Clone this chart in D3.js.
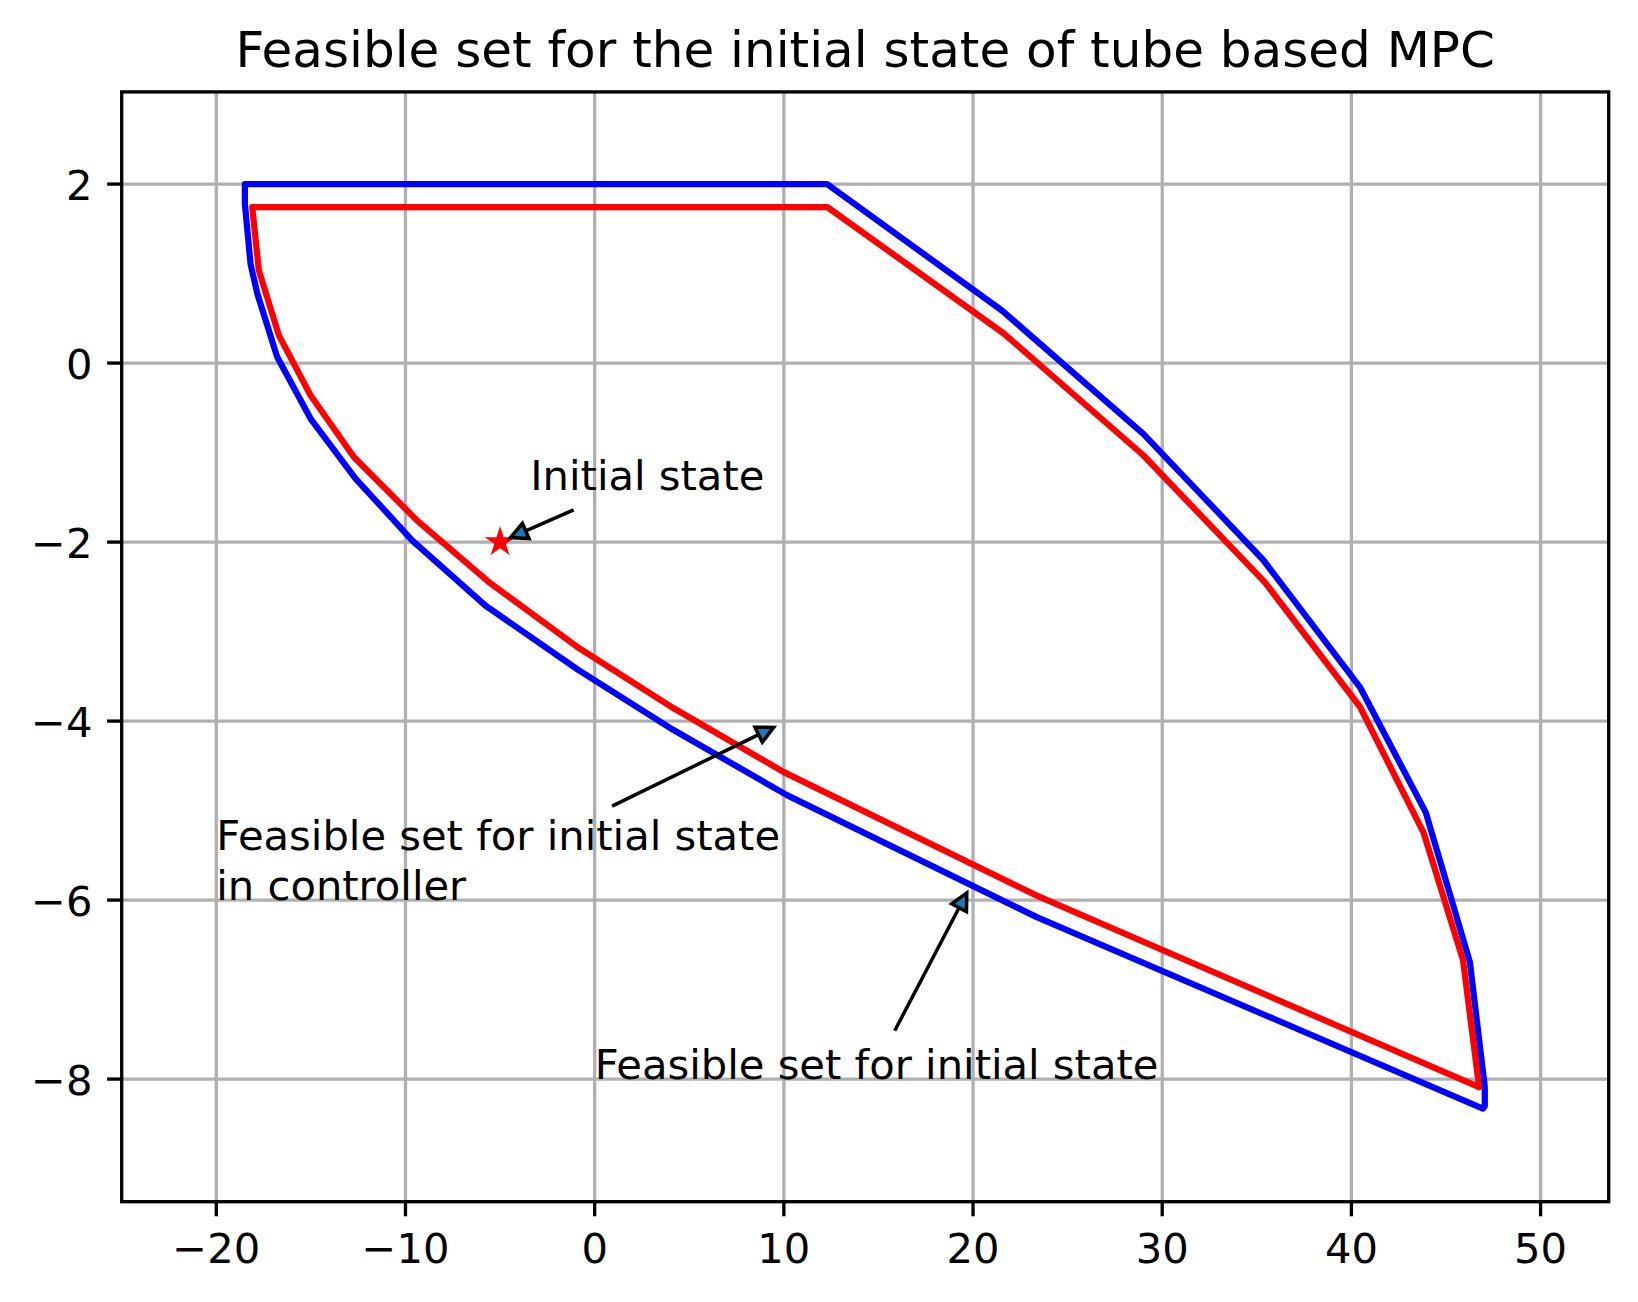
<!DOCTYPE html>
<html>
<head>
<meta charset="utf-8">
<script src="https://cdn.jsdelivr.net/npm/d3@7"></script>
<style>
  html, body { margin: 0; padding: 0; background: #fff; }
  svg { display: block; font-family: "DejaVu Sans", sans-serif; }
</style>
</head>
<body>
<svg id="chart" width="1638" height="1302"></svg>
<script>
// ---- data ----
const titleText = "Feasible set for the initial state of tube based MPC";
const xTicks = [-20, -10, 0, 10, 20, 30, 40, 50];
const yTicks = [-8, -6, -4, -2, 0, 2];

// feasible set for initial state (blue)
const blueX = [-18.49, 12.28, 21.52, 29.0, 35.34, 40.45, 43.93, 46.26, 47.05, 47.05, 46.95,
               23.37, 10.19, 4.17, -0.85, -5.77, -9.65, -12.64, -15.02, -16.78, -17.83, -18.19, -18.49];
const blueY = [2.0, 2.0, 0.589, -0.79, -2.2, -3.62, -5.02, -6.69, -8.09, -8.30, -8.33,
               -6.19, -4.83, -4.10, -3.43, -2.71, -1.98, -1.29, -0.62, 0.067, 0.775, 1.11, 1.78];

// feasible set for initial state in controller (red)
const redX = [-18.1, 12.3, 21.6, 29.0, 35.43, 40.45, 43.82, 45.9, 46.75,
              23.37, 10.0, 4.2, -0.93, -5.51, -9.38, -12.73, -15.02, -16.69, -17.75];
const redY = [1.743, 1.743, 0.335, -1.03, -2.45, -3.84, -5.25, -6.67, -8.09,
              -5.95, -4.57, -3.86, -3.17, -2.46, -1.76, -1.05, -0.36, 0.31, 1.036];

const initialState = [-5, -2];

// annotations (data coordinates)
const annTexts = [["Initial state"], ["Feasible set for initial state", "in controller"], ["Feasible set for initial state"]];
const annTextPos = [[-3.4, -1.42], [-20, -6], [0, -8]];
const arrowTail = [[-1.11, -1.64], [0.92, -4.95], [15.86, -7.46]];
const arrowTip  = [[-4.45, -1.95], [9.46, -4.07], [19.67, -5.92]];

// ---- layout ----
const W = 1638, H = 1302;
const L = 121.7, R = 1608.7, T = 91.9, B = 1201.7;
const PT = 300 / 72;           // px per point
const FS = 10 * PT;            // annotation / tick font size
const svg = d3.select("#chart");
svg.append("rect").attr("width", W).attr("height", H).attr("fill", "#fff");

const x = d3.scaleLinear().domain([-25, 53.6]).range([L, R]);
const y = d3.scaleLinear().domain([-9.37, 3.03]).range([B, T]);

// grid
const grid = svg.append("g");
grid.selectAll("line.gx").data(xTicks).join("line")
  .attr("class", "gx")
  .attr("x1", d => x(d)).attr("x2", d => x(d)).attr("y1", T).attr("y2", B)
  .attr("stroke", "#b0b0b0").attr("stroke-width", 0.8 * PT);
grid.selectAll("line.gy").data(yTicks).join("line")
  .attr("class", "gy")
  .attr("y1", d => y(d)).attr("y2", d => y(d)).attr("x1", L).attr("x2", R)
  .attr("stroke", "#b0b0b0").attr("stroke-width", 0.8 * PT);

// polygons
const line = d3.line().x(d => x(d[0])).y(d => y(d[1]));
const bluePts = blueX.map((v, i) => [v, blueY[i]]);
const redPts = redX.map((v, i) => [v, redY[i]]);
svg.append("path").attr("d", line(bluePts) + "Z")
  .attr("fill", "none").attr("stroke", "#0000ff").attr("stroke-width", 1.5 * PT).attr("stroke-linejoin", "round");
svg.append("path").attr("d", line(redPts) + "Z")
  .attr("fill", "none").attr("stroke", "#ff0000").attr("stroke-width", 1.5 * PT).attr("stroke-linejoin", "round");

// initial state star
svg.append("path")
  .attr("d", d3.symbol(d3.symbolStar).size(140)())
  .attr("transform", `translate(${x(initialState[0])},${y(initialState[1])})`)
  .attr("fill", "#ff0000").attr("stroke", "#ff0000").attr("stroke-width", 3);

// annotations
annTexts.forEach((lines, i) => {
  const px = x(annTextPos[i][0]);
  const py = y(annTextPos[i][1]);
  const n = lines.length;
  lines.forEach((s, j) => {
    svg.append("text").attr("x", px).attr("y", py - (n - 1 - j) * FS * 1.2)
      .attr("font-size", FS).attr("fill", "#000").text(s);
  });
});

arrowTail.forEach((t, i) => {
  const x0 = x(t[0]), y0 = y(t[1]);
  const x1 = x(arrowTip[i][0]), y1 = y(arrowTip[i][1]);
  const dx = x1 - x0, dy = y1 - y0, len = Math.hypot(dx, dy);
  const ux = dx / len, uy = dy / len, pxv = -uy, pyv = ux;
  const hl = 0.4 * FS, hw = 0.2 * FS;
  const bx = x1 - hl * ux, by = y1 - hl * uy;
  svg.append("line").attr("x1", x0).attr("y1", y0).attr("x2", bx).attr("y2", by)
    .attr("stroke", "#000").attr("stroke-width", 3.5);
  svg.append("path")
    .attr("d", `M${x1},${y1}L${bx + hw * pxv},${by + hw * pyv}L${bx - hw * pxv},${by - hw * pyv}Z`)
    .attr("fill", "#1f77b4").attr("stroke", "#000").attr("stroke-width", 3.5).attr("stroke-linejoin", "miter");
});

// spines
svg.append("rect").attr("x", L).attr("y", T).attr("width", R - L).attr("height", B - T)
  .attr("fill", "none").attr("stroke", "#000").attr("stroke-width", 0.8 * PT);

// ticks
const TL = 3.5 * PT, PAD = 3.5 * PT;
const ax = svg.append("g");
ax.selectAll("line.tx").data(xTicks).join("line")
  .attr("class", "tx")
  .attr("x1", d => x(d)).attr("x2", d => x(d)).attr("y1", B).attr("y2", B + TL)
  .attr("stroke", "#000").attr("stroke-width", 0.8 * PT);
ax.selectAll("text.lx").data(xTicks).join("text")
  .attr("class", "lx")
  .attr("x", d => x(d)).attr("y", B + TL + PAD + 0.76 * FS)
  .attr("text-anchor", "middle").attr("font-size", FS).attr("fill", "#000")
  .text(d => d3.format("")(d));
ax.selectAll("line.ty").data(yTicks).join("line")
  .attr("class", "ty")
  .attr("y1", d => y(d)).attr("y2", d => y(d)).attr("x1", L - TL).attr("x2", L)
  .attr("stroke", "#000").attr("stroke-width", 0.8 * PT);
ax.selectAll("text.ly").data(yTicks).join("text")
  .attr("class", "ly")
  .attr("x", L - TL - PAD).attr("y", d => y(d) + 0.375 * FS)
  .attr("text-anchor", "end").attr("font-size", FS).attr("fill", "#000")
  .text(d => d3.format("")(d));

// title
svg.append("text").attr("x", (L + R) / 2).attr("y", T - 6 * PT)
  .attr("text-anchor", "middle").attr("font-size", 12 * PT).attr("fill", "#000")
  .text(titleText);
</script>
</body>
</html>
